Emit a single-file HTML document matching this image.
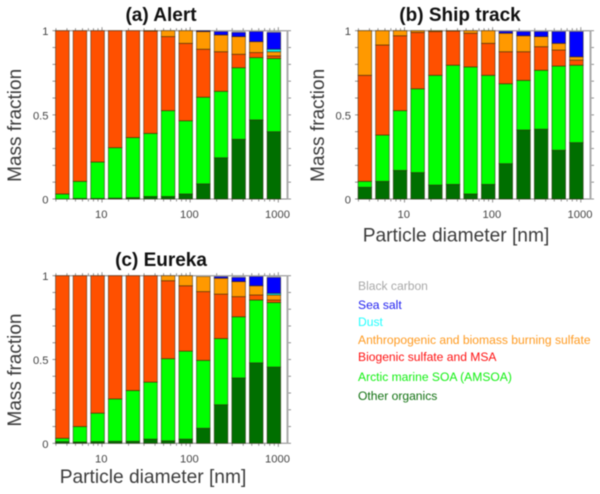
<!DOCTYPE html>
<html>
<head>
<meta charset="utf-8">
<style>
html,body{margin:0;padding:0;background:#fff;}
svg{display:block;font-family:"Liberation Sans",sans-serif;filter:blur(0.4px);}
</style>
</head>
<body>
<svg id="chart" width="600" height="494" viewBox="0 0 600 494" xmlns="http://www.w3.org/2000/svg">
<g id="plots"></g>
<g font-size="12.1">
<text x="358" y="290" fill="#a8a8a8">Black carbon</text>
<text x="358" y="309" fill="#2020f0">Sea salt</text>
<text x="358" y="326" fill="#20ffff">Dust</text>
<text x="358" y="344" fill="#ff9a20">Anthropogenic and biomass burning sulfate</text>
<text x="358" y="361" fill="#ff1010">Biogenic sulfate and MSA</text>
<text x="358" y="381" fill="#10f010">Arctic marine SOA (AMSOA)</text>
<text x="358" y="400" fill="#107010">Other organics</text>
</g>
</svg>
<script>
var diameters = [3.55, 5.62, 8.91, 14.1, 22.4, 35.5, 56.2, 89.1, 141, 224, 355, 562, 891];
var decadeTicks = [10, 100, 1000];
var fractionTicks = [0, 0.5, 1];
var fractionTickLabels = ['0', '0.5', '1'];
var speciesNames = ['other-organics', 'amsoa', 'biogenic-sulfate', 'anthropogenic-sulfate', 'dust', 'sea-salt', 'black-carbon'];
var speciesColors = ['#006f00', '#00ff00', '#ff5000', '#ff9900', '#00ffff', '#0000ff', '#a0a0a0'];

var alertOther = [0, .003, .003, .005, .008, .015, .015, .03, .09, .245, .355, .47, .4];
var alertAmsoa = [.03, .102, .217, .3, .357, .375, .51, .435, .515, .395, .425, .37, .435];
var alertBiogenic = [.97, .895, .78, .695, .635, .608, .44, .46, .285, .235, .08, .03, .015];
var alertAnthro = [0, 0, 0, 0, 0, .002, .035, .075, .105, .1, .105, .065, .025];
var alertDust = [0, 0, 0, 0, 0, 0, 0, 0, 0, 0, 0, 0, .015];
var alertSeaSalt = [0, 0, 0, 0, 0, 0, 0, 0, .005, .02, .025, .06, .1];
var alertBlackCarbon = [0, 0, 0, 0, 0, 0, 0, 0, 0, .005, .01, .005, .01];

var shipOther = [.07, .105, .17, .157, .083, .087, .03, .087, .21, .41, .415, .29, .335];
var shipAmsoa = [.035, .275, .355, .498, .652, .708, .755, .648, .475, .295, .35, .5, .46];
var shipBiogenic = [.63, .535, .445, .335, .26, .203, .2, .19, .19, .17, .14, .095, .03];
var shipAnthro = [.265, .085, .03, .01, .005, .002, .015, .075, .11, .095, .06, .04, .02];
var shipDust = [0, 0, 0, 0, 0, 0, 0, 0, 0, 0, 0, 0, 0];
var shipSeaSalt = [0, 0, 0, 0, 0, 0, 0, 0, .012, .025, .03, .07, .15];
var shipBlackCarbon = [0, 0, 0, 0, 0, 0, 0, 0, .003, .005, .005, .005, .005];

var eurekaOther = [.01, .008, .01, .012, .012, .025, .015, .025, .09, .23, .39, .48, .455];
var eurekaAmsoa = [.02, .092, .17, .253, .303, .34, .49, .525, .405, .395, .365, .375, .385];
var eurekaBiogenic = [.97, .9, .82, .735, .685, .635, .465, .39, .41, .265, .12, .03, .015];
var eurekaAnthro = [0, 0, 0, 0, 0, 0, .03, .06, .09, .095, .09, .055, .03];
var eurekaDust = [0, 0, 0, 0, 0, 0, 0, 0, 0, 0, 0, 0, .01];
var eurekaSeaSalt = [0, 0, 0, 0, 0, 0, 0, 0, 0, .01, .025, .055, .095];
var eurekaBlackCarbon = [0, 0, 0, 0, 0, 0, 0, 0, .005, .005, .01, .005, .01];

var NS = 'http://www.w3.org/2000/svg';
var root = document.getElementById('plots');

function mk(parent, tag, attrs) {
  var el = document.createElementNS(NS, tag);
  for (var k in attrs) el.setAttribute(k, attrs[k]);
  parent.appendChild(el);
  return el;
}

function drawPanel(slug, title, layout, series) {
  var left = layout.left, right = layout.right, top = layout.top, bottom = layout.bottom;
  var g = mk(root, 'g', {});
  
  

  function xScale(d) { return layout.x10 + 88.15 * (Math.log10(d) - 1); }
  function yScale(f) { return bottom + (top - bottom) * f; }

  var titleEl = mk(g, 'text', {x: layout.titleX, y: top - 9.7, 'text-anchor': 'middle', 'font-size': 19, 'font-weight': 'bold', fill: '#111'});
  titleEl.textContent = title;
  
  

  // minor and major ticks on the x axis, drawn on top and bottom edges
  for (var dec = 1; dec <= 1000; dec *= 10) {
    for (var m = 1; m < 10; m++) {
      var v = dec * m, px = xScale(v);
      if (px < left || px > right) continue;
      var len = m === 1 ? 3.5 : 2.5;
      var tb = mk(g, 'line', {x1: px, x2: px, y1: bottom, y2: bottom + len, stroke: '#777', 'stroke-width': 0.8});
      
      
      var tt = mk(g, 'line', {x1: px, x2: px, y1: top, y2: top - len, stroke: '#777', 'stroke-width': 0.8});
      
      
    }
  }
  // y ticks every 0.1
  for (var t = 0; t <= 10; t++) {
    var py = yScale(t / 10);
    var l1 = mk(g, 'line', {x1: right, x2: right + 3, y1: py, y2: py, stroke: '#777', 'stroke-width': 0.8});
    
    
    var l2 = mk(g, 'line', {x1: left + 1, x2: left - 2, y1: py, y2: py, stroke: '#777', 'stroke-width': 0.8});
    
    
  }

  var frame = mk(g, 'path', {d: 'M' + left + ' ' + top + 'H' + right + 'M' + left + ' ' + bottom + 'H' + right, stroke: '#888', 'stroke-width': 1, fill: 'none'});
  
  
  var rightAxis = mk(g, 'line', {x1: right - 0.5, x2: right - 0.5, y1: top, y2: bottom, stroke: '#aaa', 'stroke-width': 2});
  
  

  // stacked bars
  var barWidth = 13.6;
  for (var i = 0; i < diameters.length; i++) {
    var cum = 0, cx = xScale(diameters[i]);
    for (var s = 0; s < series.length; s++) {
      var val = series[s][i];
      if (val <= 0) continue;
      var y1 = yScale(cum + val), y0 = yScale(cum);
      var edge = s === 6 ? 'none' : 'rgba(40,30,10,0.62)';
      var rect = mk(g, 'rect', {x: cx - barWidth / 2, y: y1, width: barWidth, height: Math.max(0.3, y0 - y1), fill: speciesColors[s], stroke: edge, 'stroke-width': 0.8});
      
      
      cum += val;
    }
  }

  // tick labels
  decadeTicks.forEach(function (d) {
    var lb = mk(g, 'text', {x: xScale(d) - 0.8, y: bottom + 19, 'text-anchor': 'middle', 'font-size': 11.2, fill: '#444'});
    lb.textContent = String(d);
    
    
  });
  fractionTicks.forEach(function (f, idx) {
    var lb = mk(g, 'text', {x: left - 6, y: yScale(f) + 4.5, 'text-anchor': 'end', 'font-size': 11.2, fill: '#444'});
    lb.textContent = fractionTickLabels[idx];
    
    
  });

  var midY = (top + bottom) / 2 + 10.5;
  var yt = mk(g, 'text', {x: 0, y: 0, transform: 'translate(' + layout.yTitleX + ' ' + midY + ') rotate(-90)', 'text-anchor': 'middle', 'font-size': 19, fill: '#3c3c3c'});
  yt.textContent = 'Mass fraction';
  
  

  if (layout.xTitleY) {
    var xt = mk(g, 'text', {x: layout.xTitleX, y: layout.xTitleY, 'text-anchor': 'middle', 'font-size': 19.2, fill: '#3c3c3c'});
    xt.textContent = 'Particle diameter [nm]';
    
    
  }
}

drawPanel('alert', '(a) Alert', {left: 54.5, right: 288, top: 30.7, bottom: 199, x10: 102, titleX: 161, yTitleX: 21, xTitleX: 153, xTitleY: 0},
  [alertOther, alertAmsoa, alertBiogenic, alertAnthro, alertDust, alertSeaSalt, alertBlackCarbon]);
drawPanel('ship-track', '(b) Ship track', {left: 357, right: 591, top: 30.7, bottom: 199, x10: 404.5, titleX: 460, yTitleX: 324, xTitleX: 456, xTitleY: 241.5},
  [shipOther, shipAmsoa, shipBiogenic, shipAnthro, shipDust, shipSeaSalt, shipBlackCarbon]);
drawPanel('eureka', '(c) Eureka', {left: 54.5, right: 288, top: 275.7, bottom: 443.3, x10: 102, titleX: 161, yTitleX: 21, xTitleX: 153, xTitleY: 483},
  [eurekaOther, eurekaAmsoa, eurekaBiogenic, eurekaAnthro, eurekaDust, eurekaSeaSalt, eurekaBlackCarbon]);
</script>
</body>
</html>
